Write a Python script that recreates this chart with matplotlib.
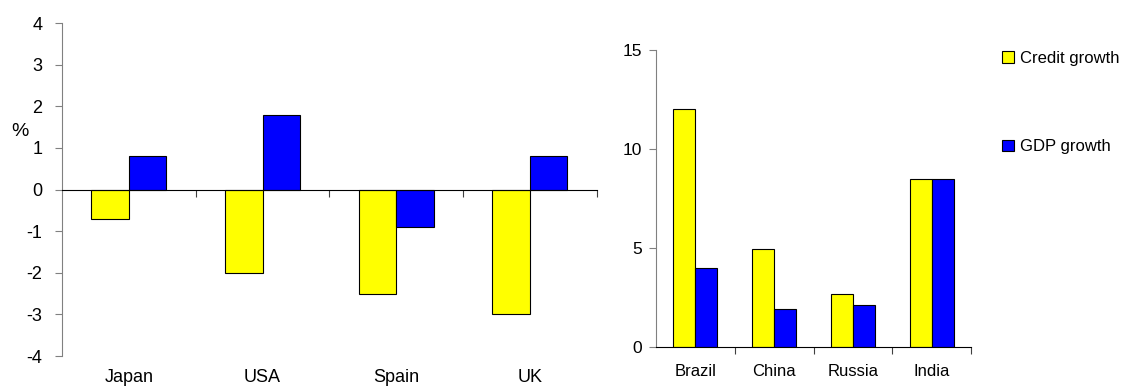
import numpy as np
import matplotlib
matplotlib.use("Agg")
import matplotlib.pyplot as plt
from matplotlib.patches import Patch

plt.rcParams["font.family"] = ["Liberation Sans", "DejaVu Sans"]
plt.rcParams["axes.unicode_minus"] = False

# Advanced economies
adv_countries = ["Japan", "USA", "Spain", "UK"]
adv_credit = [-0.7, -2.0, -2.5, -3.0]
adv_gdp = [0.8, 1.8, -0.9, 0.8]

# Emerging economies
em_countries = ["Brazil", "China", "Russia", "India"]
em_credit = [12.0, 4.95, 2.7, 8.5]
em_gdp = [4.0, 1.9, 2.1, 8.5]

yellow = "#FFFF00"
blue = "#0000FF"
w = 0.28

fig = plt.figure(figsize=(11.21, 3.89), dpi=100)

# left panel
ax1 = fig.add_axes([0.0553, 0.0848, 0.477, 0.856])
x = np.arange(len(adv_countries))
ax1.bar(x - w / 2, adv_credit, w, color=yellow, edgecolor="black", linewidth=0.8)
ax1.bar(x + w / 2, adv_gdp, w, color=blue, edgecolor="black", linewidth=0.8)
ax1.set_xlim(-0.5, 3.5)
ax1.set_ylim(-4, 4)
ax1.set_yticks(range(-4, 5))
ax1.spines["top"].set_visible(False)
ax1.spines["right"].set_visible(False)
ax1.spines["bottom"].set_position(("data", 0))
ax1.spines["bottom"].set_color("black")
ax1.spines["left"].set_color("#808080")
ax1.set_xticks([0.5, 1.5, 2.5, 3.5])
ax1.set_xticklabels([])
ax1.tick_params(axis="x", direction="out", length=5, width=0.8, color="#404040")
ax1.tick_params(axis="y", direction="out", length=5, width=0.8, color="#808080",
                labelsize=13, pad=9)
for xi, name in zip(x, adv_countries):
    ax1.text(xi, -0.066, name, transform=ax1.get_xaxis_transform(),
             ha="center", va="center", fontsize=13)
fig.text(20 / 1121, 1 - 131 / 389, "%", ha="center", va="center", fontsize=14)

# right panel
ax2 = fig.add_axes([0.5852, 0.108, 0.281, 0.7635])
x2 = np.arange(len(em_countries))
ax2.bar(x2 - w / 2, em_credit, w, color=yellow, edgecolor="black", linewidth=0.8)
ax2.bar(x2 + w / 2, em_gdp, w, color=blue, edgecolor="black", linewidth=0.8)
ax2.set_xlim(-0.5, 3.5)
ax2.set_ylim(0, 15)
ax2.set_yticks([0, 5, 10, 15])
ax2.spines["top"].set_visible(False)
ax2.spines["right"].set_visible(False)
ax2.spines["bottom"].set_color("black")
ax2.spines["left"].set_color("#808080")
ax2.set_xticks([0.5, 1.5, 2.5, 3.5])
ax2.set_xticklabels([])
ax2.set_xticks(x2, minor=True)
ax2.set_xticklabels(em_countries, minor=True)
ax2.tick_params(axis="x", which="major", direction="out", length=5, width=0.8, color="#404040")
ax2.tick_params(axis="x", which="minor", length=0, labelsize=12, pad=12)
ax2.tick_params(axis="y", direction="out", length=5, width=0.8, color="#808080",
                labelsize=12.5, pad=5)

handles = [Patch(facecolor=yellow, edgecolor="black", linewidth=0.8, label="Credit growth"),
           Patch(facecolor=blue, edgecolor="black", linewidth=0.8, label="GDP growth")]
fig.legend(handles=handles, loc="upper left", bbox_to_anchor=(1002 / 1121, 1 - 51 / 389),
           frameon=False, fontsize=12, handlelength=0.7, handleheight=0.7,
           handletextpad=0.4, labelspacing=4.4, borderaxespad=0, borderpad=0)

fig.savefig("out.png", dpi=100)
